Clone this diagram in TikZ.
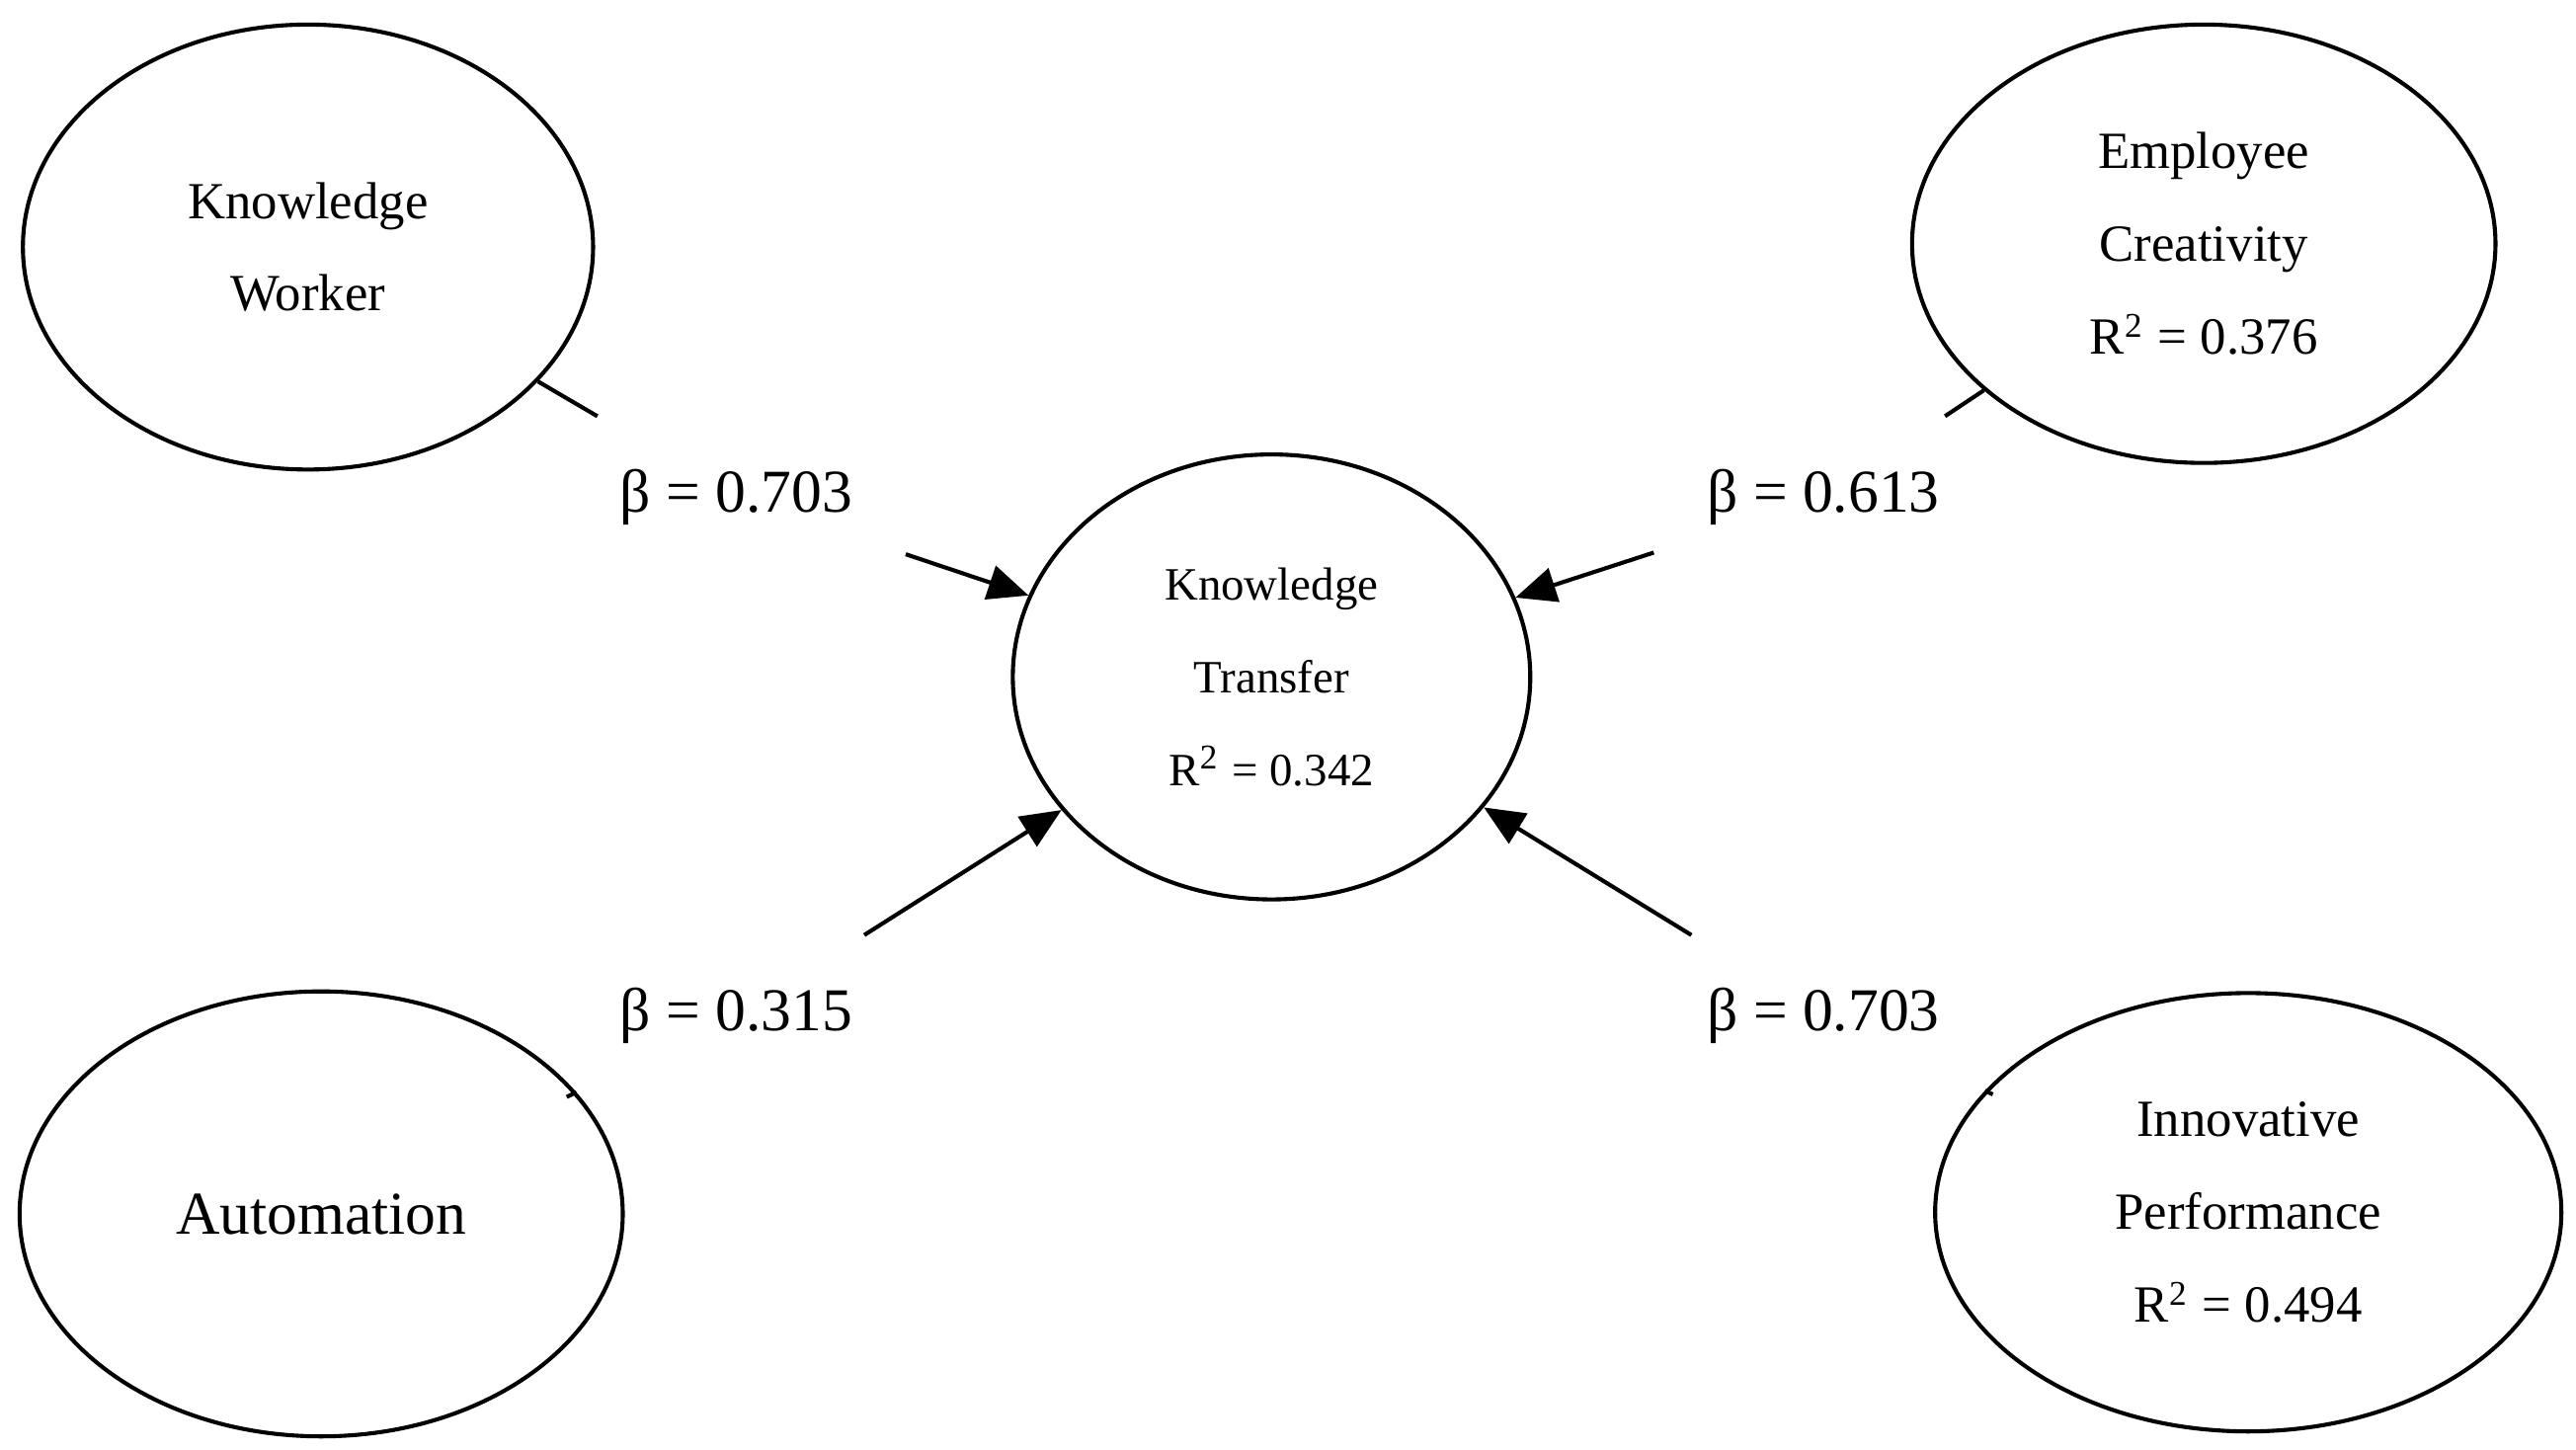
\documentclass[tikz,border=0pt]{standalone}
\usepackage{fontspec}
\setmainfont{Liberation Serif}
\usetikzlibrary{shapes.geometric,arrows.meta}
\begin{document}
\begin{tikzpicture}[x=0.01cm,y=-0.01cm,
  ell/.style={ellipse,draw,line width=0.7pt,inner sep=0pt,align=center,font=\fontsize{9}{16}\selectfont},
  lab/.style={font=\fontsize{10.5}{12}\selectfont,inner sep=9pt},
  con/.style={line width=0.7pt},
  arr/.style={line width=0.7pt,-{Triangle[length=7pt,width=6pt]}}]
\useasboundingbox (0,0) rectangle (1564,880);
\node[ell,minimum width=3.46cm,minimum height=2.70cm] (kw) at (187,150) {Knowledge\\Worker};
\node[ell,minimum width=3.54cm,minimum height=2.66cm] (ec) at (1338,148) {Employee\\Creativity\\R{\footnotesize\textsuperscript{2}} = 0.376};
\node[ell,minimum width=3.14cm,minimum height=2.70cm,font=\fontsize{8}{16}\selectfont] (kt) at (772,411) {Knowledge\\Transfer\\R{\textsuperscript{2}} = 0.342};
\node[ell,minimum width=3.66cm,minimum height=2.70cm,font=\fontsize{10.5}{13}\selectfont] (au) at (195,737) {Automation};
\node[ell,minimum width=3.80cm,minimum height=2.66cm] (ip) at (1365,736) {Innovative\\Performance\\R{\footnotesize\textsuperscript{2}} = 0.494};
\node[lab] (l1) at (447,302) {β = 0.703};
\node[lab] (l2) at (1107,302) {β = 0.613};
\node[lab] (l3) at (447,617) {β = 0.315};
\node[lab] (l4) at (1107,617) {β = 0.703};
\draw[con] (kw) -- (l1);
\draw[arr] (l1) -- (kt);
\draw[con] (ec) -- (l2);
\draw[arr] (l2) -- (kt);
\draw[con] (au) -- (l3);
\draw[arr] (l3) -- (kt);
\draw[con] (ip) -- (l4);
\draw[arr] (l4) -- (kt);
\end{tikzpicture}
\end{document}
